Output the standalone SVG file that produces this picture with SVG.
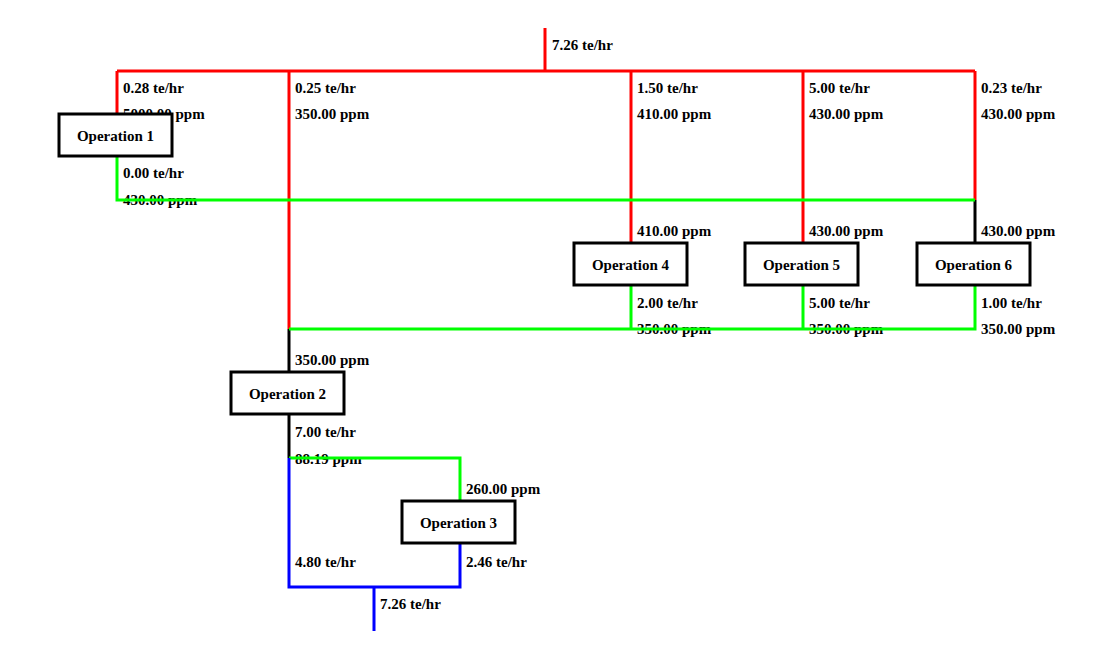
<svg xmlns="http://www.w3.org/2000/svg" width="1101" height="658" viewBox="0 0 1101 658">
<style>
text{font-family:"Liberation Serif","Times New Roman",serif;font-weight:bold;font-size:15px;fill:#000}
.n{text-anchor:middle}
.box{fill:#fff;stroke:#000;stroke-width:3}
.r{stroke:#ff0000;stroke-width:3;fill:none}
.g{stroke:#00ff00;stroke-width:3;fill:none}
.b{stroke:#0000ff;stroke-width:3;fill:none}
.k{stroke:#000;stroke-width:3;fill:none}
</style>
<rect width="1101" height="658" fill="#fff"/>
<g id="labels">
<text x="552" y="50">7.26 te/hr</text>
<text x="123" y="93">0.28 te/hr</text>
<text x="123" y="119">5000.00 ppm</text>
<text x="295" y="93">0.25 te/hr</text>
<text x="295" y="119">350.00 ppm</text>
<text x="637" y="93">1.50 te/hr</text>
<text x="637" y="119">410.00 ppm</text>
<text x="809" y="93">5.00 te/hr</text>
<text x="809" y="119">430.00 ppm</text>
<text x="981" y="93">0.23 te/hr</text>
<text x="981" y="119">430.00 ppm</text>
<text x="123" y="178">0.00 te/hr</text>
<text x="123" y="205">430.00 ppm</text>
<text x="637" y="236">410.00 ppm</text>
<text x="809" y="236">430.00 ppm</text>
<text x="981" y="236">430.00 ppm</text>
<text x="637" y="308">2.00 te/hr</text>
<text x="637" y="334">350.00 ppm</text>
<text x="809" y="308">5.00 te/hr</text>
<text x="809" y="334">350.00 ppm</text>
<text x="981" y="308">1.00 te/hr</text>
<text x="981" y="334">350.00 ppm</text>
<text x="295" y="365">350.00 ppm</text>
<text x="295" y="437">7.00 te/hr</text>
<text x="295" y="464">88.19 ppm</text>
<text x="466" y="494">260.00 ppm</text>
<text x="295" y="567">4.80 te/hr</text>
<text x="466" y="567">2.46 te/hr</text>
<text x="380" y="609">7.26 te/hr</text>
</g>
<g id="connectors">
<path class="r" d="M545 28V71M117 71H975M117 71V114M289 71V329M631 71V243M803 71V243M975 71V200"/>
<path class="k" d="M975 200V243M289 329V372M289 414V458"/>
<path class="g" d="M117 156V200H975M631 286V329M803 286V329M975 286V329H289M289 458H460V501"/>
<path class="b" d="M289 458V587H460V543M374 587V631"/>
</g>
<g id="op1"><rect class="box" x="59" y="114" width="113" height="42"/><text class="n" x="115.5" y="141">Operation 1</text></g>
<g id="op2"><rect class="box" x="231" y="372" width="113" height="42"/><text class="n" x="287.5" y="399">Operation 2</text></g>
<g id="op3"><rect class="box" x="402" y="501" width="113" height="42"/><text class="n" x="458.5" y="528">Operation 3</text></g>
<g id="op4"><rect class="box" x="574" y="243" width="113" height="42"/><text class="n" x="630.5" y="270">Operation 4</text></g>
<g id="op5"><rect class="box" x="745" y="243" width="113" height="42"/><text class="n" x="801.5" y="270">Operation 5</text></g>
<g id="op6"><rect class="box" x="917" y="243" width="113" height="42"/><text class="n" x="973.5" y="270">Operation 6</text></g>
</svg>
